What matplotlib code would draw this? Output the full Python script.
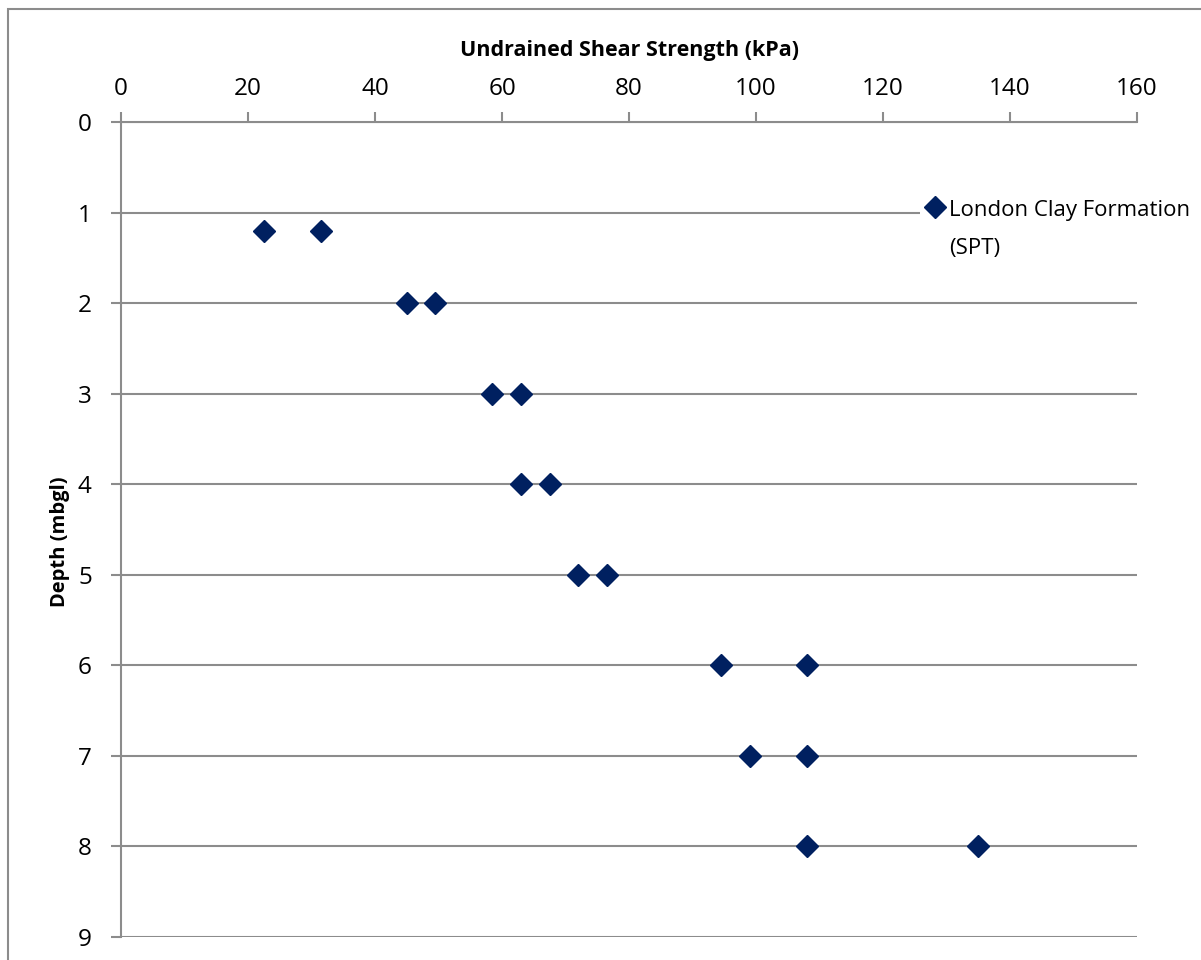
import matplotlib
matplotlib.use('Agg')
import matplotlib.pyplot as plt
from matplotlib.patches import Rectangle

plt.rcParams['font.family'] = ['Open Sans', 'DejaVu Sans']

# undrained shear strength (kPa) vs depth (mbgl)
strength = [22.5, 31.5, 45, 49.5, 58.5, 63, 63, 67.5, 72, 76.5,
            94.5, 108, 99, 108, 108, 135]
depth = [1.2, 1.2, 2, 2, 3, 3, 4, 4, 5, 5, 6, 6, 7, 7, 8, 8]
series_name = 'London Clay Formation\n(SPT)'
x_ticks = [0, 20, 40, 60, 80, 100, 120, 140, 160]
y_ticks = [0, 1, 2, 3, 4, 5, 6, 7, 8, 9]

grey = '#8c8c8c'
navy = '#002060'

fig = plt.figure(figsize=(12.01, 9.6), dpi=100)
ax = fig.add_axes([121/1201, 1-937/960, (1137-121)/1201, (937-122)/960])

# outer chart border
fig.patches.append(Rectangle((8/1201, -0.1), 1.2, 1-9/960+0.1, transform=fig.transFigure,
                             fill=False, edgecolor=grey, linewidth=1.5, zorder=0))

ax.plot(strength, depth, linestyle='none', marker='D', markersize=11,
        color=navy, label=series_name, zorder=3, clip_on=False)

ax.set_xlim(0, 160)
ax.set_ylim(9, 0)
ax.set_xticks(x_ticks)
ax.set_yticks(y_ticks)
ax.xaxis.tick_top()
ax.xaxis.set_label_position('top')
ax.set_xlabel('Undrained Shear Strength (kPa)', fontsize=15.5, fontweight='bold', labelpad=15)
ax.set_ylabel('Depth (mbgl)', fontsize=14.5, fontweight='bold')
ax.yaxis.set_label_coords(-0.050, 0.485)

ax.tick_params(axis='both', labelsize=17.5, color=grey, length=7, width=1.5, direction='out')
ax.tick_params(axis='x', pad=8)
ax.tick_params(axis='y', pad=14)

for s in ['right', 'bottom']:
    ax.spines[s].set_visible(False)
for s in ['top', 'left']:
    ax.spines[s].set_color(grey)
    ax.spines[s].set_linewidth(1.5)

ax.yaxis.grid(True, color=grey, linewidth=1.5)
ax.set_axisbelow(True)

leg = fig.legend(loc='upper left', bbox_to_anchor=(909/1201, 1-184/960),
                 fontsize=16, frameon=True, handletextpad=0.2,
                 handlelength=0.9, borderpad=0.2)
leg.get_frame().set_facecolor('white')
leg.get_frame().set_edgecolor('none')
leg.get_frame().set_alpha(1)
leg.texts[0].set_linespacing(2.1)
# put the legend diamond level with the first line of text
h = leg.legend_handles[0]
h.set_ydata([y + 16 for y in h.get_ydata()])

fig.savefig('out.png', dpi=100)
